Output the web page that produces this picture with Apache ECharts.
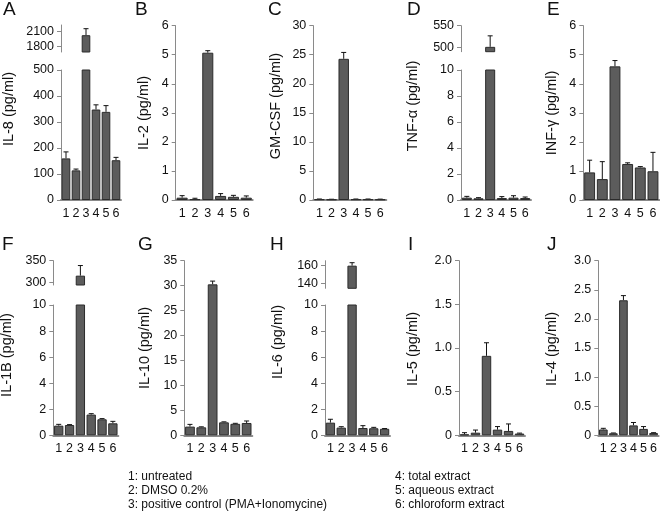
<!DOCTYPE html>
<html><head><meta charset="utf-8">
<script src="https://cdn.jsdelivr.net/npm/echarts@6/dist/echarts.min.js"></script>
<style>html,body{margin:0;padding:0;background:#fff}#c{width:660px;height:514px}</style>
</head><body><div id="c"></div>
<script>
const categories = ['1','2','3','4','5','6'];
const il8 = [160, 114, 2030, 348, 339, 153];
const il8Sd = [25, 5, 130, 18, 24, 11];
const il2 = [0.08, 0.03, 5.07, 0.14, 0.11, 0.08];
const il2Sd = [0.07, 0.03, 0.07, 0.08, 0.05, 0.06];
const gmcsf = [0.12, 0.1, 24.3, 0.12, 0.12, 0.1];
const gmcsfSd = [0.05, 0.03, 1.1, 0.05, 0.05, 0.05];
const tnfa = [0.18, 0.13, 502, 0.15, 0.18, 0.15];
const tnfaSd = [0.1, 0.05, 25, 0.11, 0.15, 0.08];
const infg = [0.95, 0.72, 4.6, 1.24, 1.12, 0.99];
const infgSd = [0.42, 0.6, 0.2, 0.04, 0.03, 0.65];
const il1b = [0.74, 0.79, 316, 1.59, 1.23, 0.92];
const il1bSd = [0.1, 0.03, 23, 0.07, 0.05, 0.15];
const il10 = [1.74, 1.6, 30.26, 2.6, 2.3, 2.47];
const il10Sd = [0.45, 0.1, 0.65, 0.1, 0.1, 0.4];
const il6 = [0.97, 0.59, 160, 0.56, 0.54, 0.5];
const il6Sd = [0.26, 0.07, 3.4, 0.18, 0.07, 0.02];
const il5 = [0.01, 0.03, 0.91, 0.065, 0.05, 0.02];
const il5Sd = [0.02, 0.03, 0.15, 0.035, 0.08, 0.005];
const il4 = [0.1, 0.035, 2.32, 0.17, 0.11, 0.04];
const il4Sd = [0.02, 0.005, 0.08, 0.05, 0.04, 0.005];
const legendLeft = ['1: untreated', '2: DMSO 0.2%', '3: positive control (PMA+Ionomycine)'];
const legendRight = ['4: total extract', '5: aqueous extract', '6: chloroform extract'];

const FONT = '"Liberation Sans", Arial, Helvetica, sans-serif';
const panels = [
  {letter:'A', name:'IL-8 (pg/ml)', values:il8, sd:il8Sd, x:61, w:60, top:70, bottom:200, max:500, interval:100,
   upper:{top:25, bottom:52, min:1694, max:2234, ticks:[1800,2100]}, lx:3, ly:0, nx:9, ny:109},
  {letter:'B', name:'IL-2 (pg/ml)', values:il2, sd:il2Sd, x:175.7, w:77, top:25.7, bottom:200, max:6, interval:1, lx:135, ly:0, nx:144, ny:113},
  {letter:'C', name:'GM-CSF (pg/ml)', values:gmcsf, sd:gmcsfSd, x:313.3, w:73, top:25.7, bottom:200, max:30, interval:5, lx:268, ly:0, nx:276, ny:106},
  {letter:'D', name:'TNF-α (pg/ml)', values:tnfa, sd:tnfaSd, x:461, w:70, top:70, bottom:200, max:10, interval:2,
   upper:{top:25.7, bottom:51.7, min:491, max:550, ticks:[500,550]}, lx:407, ly:0, nx:413, ny:106},
  {letter:'E', name:'INF-γ (pg/ml)', values:infg, sd:infgSd, x:583.3, w:76, top:25.7, bottom:200, max:6, interval:1, lx:547, ly:0, nx:552, ny:113},
  {letter:'F', name:'IL-1B (pg/ml)', values:il1b, sd:il1bSd, x:53.3, w:65, top:305, bottom:435.3, max:10, interval:2,
   upper:{top:260.7, bottom:285, min:294.8, max:350, ticks:[300,350]}, lx:2, ly:235, nx:7, ny:355},
  {letter:'G', name:'IL-10 (pg/ml)', values:il10, sd:il10Sd, x:184.3, w:68, top:260.7, bottom:435.3, max:35, interval:5, lx:138, ly:235, nx:145, ny:348},
  {letter:'H', name:'IL-6 (pg/ml)', values:il6, sd:il6Sd, x:325, w:65, top:305, bottom:435.3, max:10, interval:2,
   upper:{top:260.7, bottom:288.3, min:134, max:165.7, ticks:[140,160]}, lx:270, ly:235, nx:278, ny:342},
  {letter:'I', name:'IL-5 (pg/ml)', values:il5, sd:il5Sd, x:459, w:66, top:260.7, bottom:435.3, max:2, interval:0.5, dec:true, lx:408, ly:235, nx:413, ny:349},
  {letter:'J', name:'IL-4 (pg/ml)', values:il4, sd:il4Sd, x:598.3, w:61, top:260.7, bottom:435.3, max:3, interval:0.5, dec:true, lx:547, ly:235, nx:552, ny:349}
];

const grid = [], xAxis = [], yAxis = [], series = [], graphic = [];
const AX = '#8a8a8a';
const barStyle = {color:'#5c5c5c', borderColor:'#2b2b2b', borderWidth:1};
function errRender(params, api) {
  const x = api.value(0), v = api.value(1), e = api.value(2);
  const p0 = api.coord([x, v]), p1 = api.coord([x, e]);
  const c = 2.5;
  return {type:'group', children:[
    {type:'line', shape:{x1:p0[0], y1:p0[1], x2:p1[0], y2:p1[1]}, style:{stroke:'#111', lineWidth:1}},
    {type:'line', shape:{x1:p1[0]-c, y1:p1[1], x2:p1[0]+c, y2:p1[1]}, style:{stroke:'#111', lineWidth:1}}
  ]};
}
function addGrid(left, top, width, height, showX, yOpt) {
  const gi = grid.length;
  grid.push({left:left, top:top, width:width, height:height, containLabel:false});
  xAxis.push({type:'category', gridIndex:gi, data:categories, show:showX,
    axisLine:{show:true, lineStyle:{color:AX, width:2}}, axisTick:{show:false},
    axisLabel:{fontSize:12.5, color:'#111', margin:7, fontFamily:FONT, interval:0}});
  yAxis.push(Object.assign({type:'value', gridIndex:gi,
    axisLine:{show:true, lineStyle:{color:AX, width:1}},
    splitLine:{show:false}}, yOpt));
  return gi;
}
panels.forEach(p => {
  const fmt = p.dec ? (v => v === 0 ? '0' : v.toFixed(1)) : (v => String(v));
  const gi = addGrid(p.x, p.top, p.w, p.bottom - p.top, true, {
    min:0, max:p.max, interval:p.interval,
    axisTick:{show:true, inside:false, length:4, lineStyle:{color:AX}},
    axisLabel:{fontSize:12.5, color:'#111', margin:7, fontFamily:FONT, formatter:fmt}
  });
  series.push({type:'bar', xAxisIndex:gi, yAxisIndex:gi, data:p.values.map(v => v),
    barCategoryGap:'14%', itemStyle:barStyle, clip:true, silent:true});
  series.push({type:'custom', xAxisIndex:gi, yAxisIndex:gi, renderItem:errRender, clip:true, silent:true,
    encode:{x:0, y:[1,2]},
    data:p.values.map((v, i) => [i, v, v + p.sd[i]]).filter(d => d[2] <= p.max)});
  if (p.upper) {
    const u = p.upper;
    const gu = addGrid(p.x, u.top, p.w, u.bottom - u.top, false, {
      min:u.min, max:u.max,
      axisTick:{show:true, inside:false, length:4, lineStyle:{color:AX}, customValues:u.ticks},
      axisLabel:{fontSize:12.5, color:'#111', margin:7, fontFamily:FONT, customValues:u.ticks, formatter:(v => String(v))}
    });
    series.push({type:'bar', xAxisIndex:gu, yAxisIndex:gu, data:p.values.map(v => v > p.max ? v : '-'),
      barCategoryGap:'14%', itemStyle:barStyle, clip:true, silent:true});
    series.push({type:'custom', xAxisIndex:gu, yAxisIndex:gu, renderItem:errRender, clip:true, silent:true,
      encode:{x:0, y:[1,2]},
      data:p.values.map((v, i) => [i, v, v + p.sd[i]]).filter(d => d[1] > p.max)});
  }
  graphic.push({type:'text', left:p.lx, top:p.ly, style:{text:p.letter, font:'19px ' + FONT, fill:'#111'}});
  graphic.push({type:'text', x:p.nx, y:p.ny, rotation:Math.PI/2,
    style:{text:p.name, font:'14.5px ' + FONT, fill:'#111', align:'center', verticalAlign:'middle'}});
});
legendLeft.forEach((t, i) => graphic.push({type:'text', x:128, y:477 + i*14,
  style:{text:t, font:'12px ' + FONT, fill:'#111', verticalAlign:'middle'}}));
legendRight.forEach((t, i) => graphic.push({type:'text', x:395, y:477 + i*14,
  style:{text:t, font:'12px ' + FONT, fill:'#111', verticalAlign:'middle'}}));

const chart = echarts.init(document.getElementById('c'), null, {renderer:'canvas'});
chart.setOption({animation:false, backgroundColor:'#fff', textStyle:{fontFamily:FONT},
  grid:grid, xAxis:xAxis, yAxis:yAxis, series:series, graphic:graphic});
</script></body></html>
